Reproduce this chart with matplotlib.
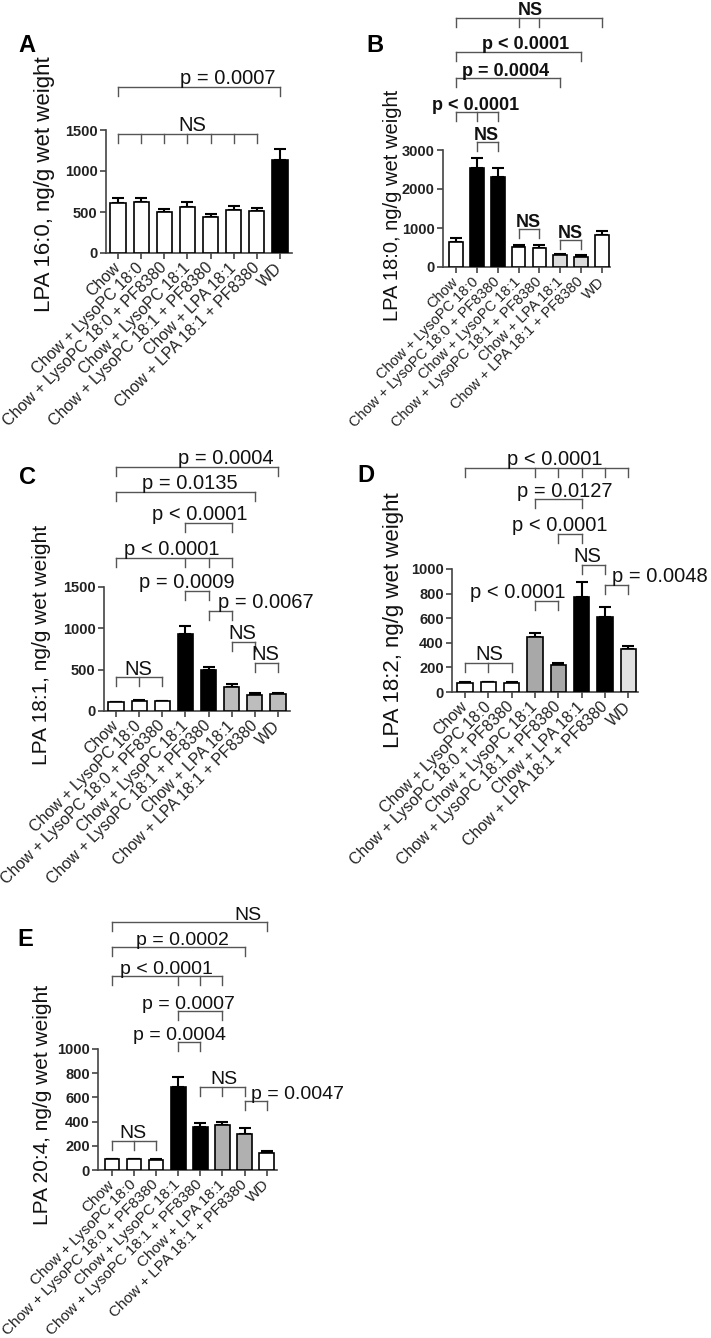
import matplotlib
matplotlib.use('Agg')
import matplotlib.pyplot as plt
import numpy as np

plt.rcParams['font.family'] = ['Liberation Sans', 'DejaVu Sans']

W, H = 711, 1338

groups = ['Chow', 'Chow + LysoPC 18:0', 'Chow + LysoPC 18:0 + PF8380',
          'Chow + LysoPC 18:1', 'Chow + LysoPC 18:1 + PF8380',
          'Chow + LPA 18:1', 'Chow + LPA 18:1 + PF8380', 'WD']

# panel A - LPA 16:0
means_a = [606, 622, 496, 561, 435, 520, 512, 1138]
errs_a = [61, 45, 41, 57, 37, 53, 41, 134]
colors_a = ['white'] * 7 + ['black']
# panel B - LPA 18:0
means_b = [650, 2540, 2300, 510, 480, 300, 265, 820]
errs_b = [90, 260, 240, 60, 80, 40, 35, 110]
colors_b = ['white', 'black', 'black', 'white', 'white', '#dcdcdc', '#dcdcdc', 'white']
# panel C - LPA 18:1
means_c = [105, 120, 118, 930, 490, 290, 194, 206]
errs_c = [8, 8, 8, 100, 46, 37, 24, 16]
colors_c = ['white'] * 3 + ['black'] * 2 + ['#bdbdbd'] * 3
# panel D - LPA 18:2
means_d = [76, 78, 72, 445, 220, 775, 612, 347]
errs_d = [6, 6, 6, 32, 13, 117, 76, 27]
colors_d = ['white'] * 3 + ['#a8a8a8'] * 2 + ['black'] * 2 + ['#e0e0e0']
# panel E - LPA 20:4
means_e = [88, 88, 85, 690, 353, 370, 298, 138]
errs_e = [5, 5, 5, 76, 33, 30, 47, 22]
colors_e = ['white'] * 3 + ['black'] * 2 + ['#b0b0b0'] * 2 + ['white']

# brackets: (from bar, to bar, inner ticks, level, label, label x)
brk_a = [(0, 7, [], 2025, 'p = 0.0007', 4.75),
         (0, 6, [1, 2, 3, 4, 5], 1452, 'NS', 3.2)]
brk_b = [(0, 7, [3, 4], 6385, 'NS', 3.55),
         (0, 6, [], 5513, 'p < 0.0001', 3.33),
         (0, 5, [], 4846, 'p = 0.0004', 2.37),
         (0, 2, [1], 3974, 'p < 0.0001', 0.96),
         (1, 2, [], 3205, 'NS', 1.44),
         (3, 4, [], 974, 'NS', 3.45),
         (5, 6, [], 692, 'NS', 5.46)]
brk_c = [(0, 7, [], 2952, 'p = 0.0004', 4.75),
         (0, 6, [], 2650, 'p = 0.0135', 3.2),
         (3, 5, [], 2275, 'p < 0.0001', 3.63),
         (0, 5, [3, 4], 1851, 'p < 0.0001', 2.42),
         (3, 4, [], 1452, 'p = 0.0009', 3.07),
         (4, 5, [], 1210, 'p = 0.0067', 6.48),
         (5, 6, [], 835, 'NS', 5.44),
         (6, 7, [], 581, 'NS', 6.44),
         (0, 2, [1], 411, 'NS', 0.95)]
brk_d = [(0, 7, [3, 4, 5, 6], 1824, 'p < 0.0001', 3.86),
         (3, 5, [], 1569, 'p = 0.0127', 4.29),
         (4, 5, [], 1285, 'p < 0.0001', 4.08),
         (5, 6, [], 1033, 'NS', 5.24),
         (6, 7, [], 870, 'p = 0.0048', 8.37),
         (3, 4, [], 740, 'p < 0.0001', 2.27),
         (0, 2, [1], 236, 'NS', 1.03)]
brk_e = [(0, 7, [], 2049, 'NS', 6.15),
         (0, 6, [], 1842, 'p = 0.0002', 3.19),
         (0, 5, [3, 4], 1602, 'p < 0.0001', 2.47),
         (3, 5, [], 1313, 'p = 0.0007', 3.48),
         (3, 4, [], 1057, 'p = 0.0004', 3.08),
         (4, 6, [5], 686, 'NS', 5.09),
         (6, 7, [], 570, 'p = 0.0047', 8.39),
         (0, 2, [1], 240, 'NS', 0.95)]


def rect(l, r, t, b):
    return [l / W, 1 - b / H, (r - l) / W, (b - t) / H]


def panel(fig, box, xlim, means, errs, colors, yticks, ylabel, lab_xy, lab_size,
          brackets, letter, letter_xy, fs=14.5, bold=False, xfs=11.5):
    ax = fig.add_axes(rect(*box))
    x = np.arange(len(means))
    ax.bar(x, means, width=0.66, color=colors, edgecolor='black', linewidth=1.2, zorder=3)
    ax.errorbar(x, means, yerr=[np.zeros(len(errs)), errs], fmt='none', ecolor='black',
                elinewidth=1.5, capsize=4.5, capthick=1.5, zorder=2)
    ax.set_xlim(*xlim)
    ax.set_ylim(0, yticks[-1])
    ax.set_yticks(yticks)
    ax.set_yticklabels([str(t) for t in yticks], fontsize=10.5, fontweight='bold', color='#222')
    ax.set_xticks(x)
    ax.set_xticklabels(groups, rotation=45, ha='right', va='center',
                       rotation_mode='anchor', fontsize=xfs, color='#222')
    for s in ['top', 'right']:
        ax.spines[s].set_visible(False)
    for s in ['left', 'bottom']:
        ax.spines[s].set_color('#444')
        ax.spines[s].set_linewidth(1.2)
    ax.tick_params(axis='both', length=4, width=1.2, color='#444', pad=2)
    ax.tick_params(axis='x', pad=5)

    drop = yticks[-1] * 9 / (box[3] - box[2])
    for x0, x1, inner, y, txt, tx in brackets:
        ax.plot([x0, x1], [y, y], color='#555', lw=1, clip_on=False)
        for xi in [x0, x1] + inner:
            ax.plot([xi, xi], [y, y - drop], color='#555', lw=1, clip_on=False)
        ax.annotate(txt, xy=(tx, y), xytext=(0, 1.8), textcoords='offset points',
                    ha='center', va='baseline', fontsize=fs,
                    fontweight='bold' if bold else 'normal', color='#111',
                    annotation_clip=False)

    fig.text(lab_xy[0] / W, 1 - lab_xy[1] / H, ylabel, rotation=90, ha='center',
             va='center', fontsize=lab_size, color='#111')
    fig.text(letter_xy[0] / W, 1 - letter_xy[1] / H, letter, ha='center', va='center',
             fontsize=17, fontweight='bold')
    return ax


fig = plt.figure(figsize=(W / 100, H / 100), dpi=100)

panel(fig, (106, 292, 130, 253), (-0.52, 7.52), means_a, errs_a, colors_a,
      [0, 500, 1000, 1500], 'LPA 16:0, ng/g wet weight', (45, 184), 16,
      brk_a, 'A', (27, 46), fs=14.5)
panel(fig, (443, 610, 150, 267), (-0.62, 7.38), means_b, errs_b, colors_b,
      [0, 1000, 2000, 3000], 'LPA 18:0, ng/g wet weight', (393, 205), 14.5,
      brk_b, 'B', (375, 45), fs=13, bold=True, xfs=10.5)
panel(fig, (104, 290, 587, 711), (-0.52, 7.52), means_c, errs_c, colors_c,
      [0, 500, 1000, 1500], 'LPA 18:1, ng/g wet weight', (42, 645), 15,
      brk_c, 'C', (27, 477), fs=14.5)
panel(fig, (452, 638, 569, 692), (-0.56, 7.42), means_d, errs_d, colors_d,
      [0, 200, 400, 600, 800, 1000], 'LPA 18:2, ng/g wet weight', (393, 620), 16,
      brk_d, 'D', (366, 476), fs=14.5)
panel(fig, (98, 277, 1049, 1170), (-0.63, 7.47), means_e, errs_e, colors_e,
      [0, 200, 400, 600, 800, 1000], 'LPA 20:4, ng/g wet weight', (43, 1105), 15,
      brk_e, 'E', (25, 939), fs=14, xfs=11)

fig.savefig('out.png', dpi=100)
